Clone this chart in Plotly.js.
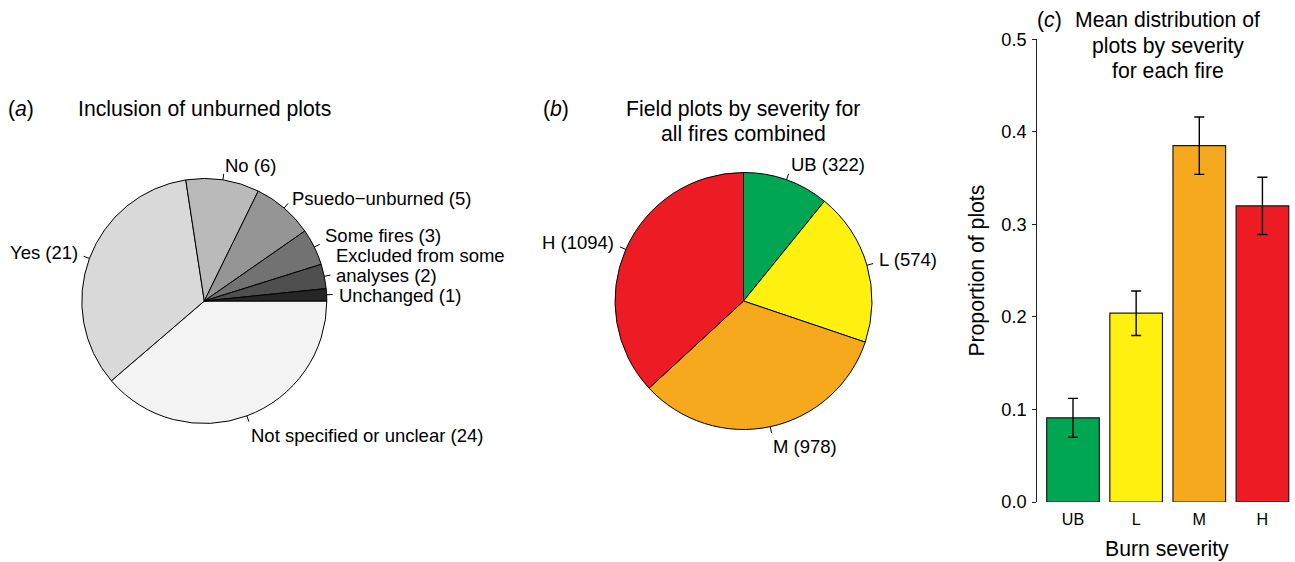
<!DOCTYPE html>
<html>
<head>
<meta charset="utf-8">
<script src="https://cdn.plot.ly/plotly-3.0.1.min.js"></script>
<style>
  html, body { margin: 0; padding: 0; background: #ffffff; }
  #chart { width: 1295px; height: 562px; }
</style>
</head>
<body>
<div id="chart"></div>
<script>
// ---- Data -------------------------------------------------------------
// (a) Inclusion of unburned plots: number of studies per approach
const inclusionCategories = [
  "Unchanged",
  "Excluded from some\nanalyses",
  "Some fires",
  "Psuedo\u2212unburned",
  "No",
  "Yes",
  "Not specified or unclear"
];
const inclusionCounts = [1, 2, 3, 5, 6, 21, 24];

// (b) Field plots by severity class, all fires combined
const severityClasses = ["UB", "L", "M", "H"];
const plotCounts = [322, 574, 978, 1094];

// (c) Mean proportion of plots per severity class per fire, with standard error
const meanProportion = [0.091, 0.204, 0.385, 0.320];
const stdError = [0.021, 0.024, 0.031, 0.031];

const yTickValues = [0, 0.1, 0.2, 0.3, 0.4, 0.5];

// ---- Styles -----------------------------------------------------------
const grayShades = ["#262626", "#4f4f4f", "#727272", "#959595", "#bababa", "#d9d9d9", "#f3f3f3"];
const severityColors = ["#00a651", "#fff10f", "#f7a91e", "#ed1c24"];
const FONT = "Liberation Sans, Arial, Helvetica, sans-serif";
const LABEL_SIZE = 18.5;
const TITLE_SIZE = 21.2;
// small vertical nudges (px, + = down) keeping pie labels clear of each other
const inclusionLabelNudge = [1.8, 1.8, -6.5, 0, -2, -2, 8.6];
const severityLabelNudge = [-3, -2, 7, -1.5];

// ---- Page geometry (pixels) --------------------------------------------
const W = 1295, H = 562;
const px = v => v / W;           // pixel x -> paper x
const py = v => 1 - v / H;       // pixel y -> paper y

const pieA = { cx: 204.3, cy: 301, r: 122.5 };
const pieB = { cx: 743.5, cy: 301, r: 128.5 };
const barBox = { left: 1037.3, right: 1294, top: 39.3, bottom: 502 };

function pieDomain(g) {
  return {
    x: [px(g.cx - g.r), px(g.cx + g.r)],
    y: [py(g.cy + g.r), py(g.cy - g.r)]
  };
}

// Labels sit at 1.1 r on each slice's mid-angle, with a short tick from r to 1.05 r.
// startDeg is the math angle where the first slice begins.
function pieLabels(cats, vals, g, startDeg, clockwise, nudge) {
  const total = vals.reduce((a, b) => a + b, 0);
  const anns = [], shapes = [];
  const lineGap = 20.2;
  let cum = 0;
  cats.forEach((c, i) => {
    const mid = (cum + vals[i] / 2) / total * 360;
    cum += vals[i];
    const th = (startDeg + (clockwise ? -mid : mid)) * Math.PI / 180;
    const ux = Math.cos(th), uy = Math.sin(th);
    shapes.push({
      type: "line", xref: "paper", yref: "paper",
      x0: px(g.cx + g.r * ux), y0: py(g.cy - g.r * uy),
      x1: px(g.cx + 1.05 * g.r * ux), y1: py(g.cy - 1.05 * g.r * uy),
      line: { color: "#000000", width: 1 }
    });
    const lines = (c + " (" + vals[i] + ")").split("\n");
    lines.forEach((t, k) => {
      anns.push({
        xref: "paper", yref: "paper", showarrow: false,
        x: px(g.cx + 1.1 * g.r * ux),
        y: py(g.cy - 1.1 * g.r * uy - (lines.length - 1 - k) * lineGap + (nudge ? nudge[i] : 0)),
        text: t,
        xanchor: ux < 0 ? "right" : "left", yanchor: "middle",
        borderpad: 0, borderwidth: 0,
        font: { family: FONT, size: LABEL_SIZE, color: "#000000" }
      });
    });
  });
  return { anns, shapes };
}

function textAnn(text, xPx, yPx, opts) {
  return Object.assign({
    xref: "paper", yref: "paper", showarrow: false,
    x: px(xPx), y: py(yPx), text: text,
    xanchor: "center", yanchor: "middle",
    borderpad: 0, borderwidth: 0,
    font: { family: FONT, size: TITLE_SIZE, color: "#000000" }
  }, opts || {});
}

// ---- Traces -----------------------------------------------------------
// (a) counter-clockwise from 3 o'clock == clockwise from 3 o'clock in reverse order
const revCats = inclusionCategories.slice().reverse();
const revCounts = inclusionCounts.slice().reverse();
const revGrays = grayShades.slice().reverse();

const traces = [
  {
    type: "pie",
    labels: revCats, values: revCounts,
    sort: false, direction: "clockwise", rotation: 90,
    textinfo: "none", textposition: "none", hoverinfo: "label+value",
    marker: { colors: revGrays, line: { color: "#000000", width: 1 } },
    domain: pieDomain(pieA),
    showlegend: false
  },
  {
    type: "pie",
    labels: severityClasses, values: plotCounts,
    sort: false, direction: "clockwise", rotation: 0,
    textinfo: "none", textposition: "none", hoverinfo: "label+value",
    marker: { colors: severityColors, line: { color: "#000000", width: 1 } },
    domain: pieDomain(pieB),
    showlegend: false
  },
  {
    type: "bar",
    x: severityClasses, y: meanProportion,
    xaxis: "x", yaxis: "y",
    marker: { color: severityColors, line: { color: "#1a1a1a", width: 1.2 } },
    error_y: { type: "data", array: stdError, visible: true, color: "#000000", thickness: 1.4, width: 5 },
    showlegend: false
  }
];

// ---- Annotations & shapes ---------------------------------------------
const labA = pieLabels(inclusionCategories, inclusionCounts, pieA, 0, false, inclusionLabelNudge);
const labB = pieLabels(severityClasses, plotCounts, pieB, 90, true, severityLabelNudge);

const annotations = [].concat(
  labA.anns, labB.anns,
  [
    textAnn("(<i>a</i>)", 8, 109.3, { xanchor: "left" }),
    textAnn("Inclusion of unburned plots", 204.5, 109.3),
    textAnn("(<i>b</i>)", 543, 109.3, { xanchor: "left" }),
    textAnn("Field plots by severity for", 743.3, 109.3),
    textAnn("all fires combined", 743.3, 133.3),
    textAnn("(<i>c</i>)", 1037, 20, { xanchor: "left" }),
    textAnn("Mean distribution of", 1167.5, 20),
    textAnn("plots by severity", 1167.5, 45.5),
    textAnn("for each fire", 1167.5, 71),
    textAnn("Burn severity", 1167.3, 549.3),
    textAnn("Proportion of plots", 977, 270.6, { textangle: -90 })
  ]
);

const layout = {
  width: W, height: H,
  margin: { l: 0, r: 0, t: 0, b: 0, pad: 0 },
  paper_bgcolor: "#ffffff",
  plot_bgcolor: "rgba(0,0,0,0)",
  font: { family: FONT, color: "#000000" },
  showlegend: false,
  bargap: 0.1667,
  xaxis: {
    domain: [px(barBox.left), px(barBox.right)],
    type: "category",
    range: [-0.5656, 3.5],
    showline: false, showgrid: false, zeroline: false,
    ticks: "", ticklabelstandoff: 6,
    tickfont: { family: FONT, size: 16.1, color: "#000000" },
    fixedrange: true
  },
  yaxis: {
    domain: [py(barBox.bottom), py(barBox.top)],
    range: [0, 0.5],
    showline: true, linecolor: "#222222", linewidth: 1,
    ticks: "outside", ticklen: 4, tickwidth: 1, tickcolor: "#222222",
    tickvals: yTickValues, tickformat: ".1f",
    ticklabelstandoff: 2,
    tickfont: { family: FONT, size: 18.2, color: "#000000" },
    showgrid: false, zeroline: false,
    fixedrange: true
  },
  annotations: annotations,
  shapes: [].concat(labA.shapes, labB.shapes)
};

Plotly.newPlot("chart", traces, layout, { displayModeBar: false, staticPlot: true });
</script>
</body>
</html>
